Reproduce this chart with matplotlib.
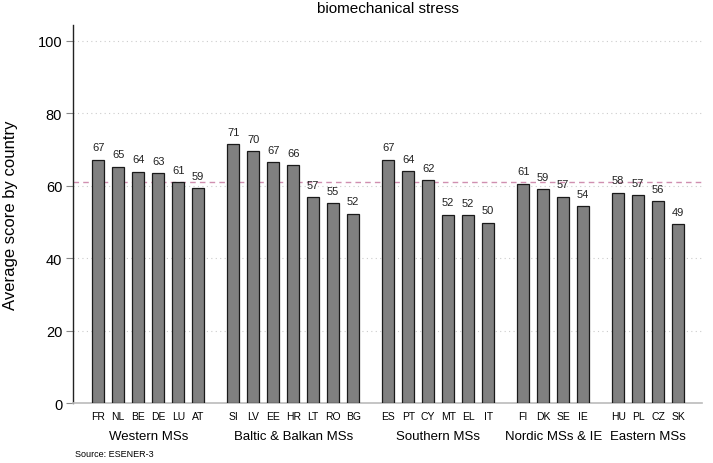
import numpy as np
import matplotlib
matplotlib.use("Agg")
import matplotlib.pyplot as plt

plt.rcParams["font.family"] = ["Liberation Sans", "DejaVu Sans"]

GROUPS = ["Western MSs", "Baltic & Balkan MSs", "Southern MSs", "Nordic MSs & IE", "Eastern MSs"]
COUNTRIES = [
    ["FR", "NL", "BE", "DE", "LU", "AT"],
    ["SI", "LV", "EE", "HR", "LT", "RO", "BG"],
    ["ES", "PT", "CY", "MT", "EL", "IT"],
    ["FI", "DK", "SE", "IE"],
    ["HU", "PL", "CZ", "SK"],
]
SCORES = [
    [67.2, 65.3, 63.9, 63.4, 61.0, 59.3],
    [71.4, 69.6, 66.6, 65.8, 56.8, 55.1, 52.3],
    [67.2, 64.0, 61.5, 52.0, 51.9, 49.8],
    [60.6, 59.0, 57.0, 54.3],
    [58.1, 57.4, 55.8, 49.4],
]
OVERALL_MEAN = 60.9

GAP = 1.75
xs, labels, vals, centers = [], [], [], []
pos = 0.0
for codes, scores in zip(COUNTRIES, SCORES):
    grp = []
    for c, s in zip(codes, scores):
        xs.append(pos)
        grp.append(pos)
        labels.append(c)
        vals.append(s)
        pos += 1
    centers.append(np.mean(grp))
    pos += GAP - 1

fig = plt.figure(figsize=(7.13, 4.64), dpi=100)
ax = fig.add_axes([0.1028, 0.1293, 0.8818, 0.8147])

for y in [20, 40, 60, 80, 100]:
    ax.axhline(y, color="#cccccc", lw=0.8, ls=(0, (1, 3)), zorder=0)
ax.axhline(OVERALL_MEAN, color="#d08fb0", lw=1.0, ls=(0, (4, 3)), zorder=1)

ax.bar(xs, vals, width=0.58, color="#808080", edgecolor="#1a1a1a", lw=0.9, zorder=3)
for x, v in zip(xs, vals):
    ax.text(x, v + 2.0, f"{v:.0f}", ha="center", va="bottom", fontsize=8, color="#222222")

ax.set_xlim(-1.245, 30.19)
ax.set_ylim(0, 104.4)
ax.set_yticks([0, 20, 40, 60, 80, 100])
ax.tick_params(axis="y", labelsize=10.5, length=5, color="#888888", width=0.8, pad=3)
ax.set_xticks(xs)
ax.set_xticklabels(labels, fontsize=7.5)
ax.tick_params(axis="x", length=0, pad=6)
for sp in ["top", "right"]:
    ax.spines[sp].set_visible(False)
ax.spines["left"].set_color("#222222")
ax.spines["left"].set_linewidth(1.0)
ax.spines["bottom"].set_color("#bbbbbb")
ax.spines["bottom"].set_linewidth(1.2)

for cx, g in zip(centers, GROUPS):
    ax.text(cx, -9.0, g, ha="center", va="center", fontsize=9.5)

ax.set_ylabel("Average score by country", fontsize=12, labelpad=14)
ax.set_title("biomechanical stress", fontsize=11, pad=9)
fig.text(0.105, 0.02, "Source: ESENER-3", fontsize=6.5, ha="left", va="center")

plt.savefig("out.png", dpi=100)
plt.close()
